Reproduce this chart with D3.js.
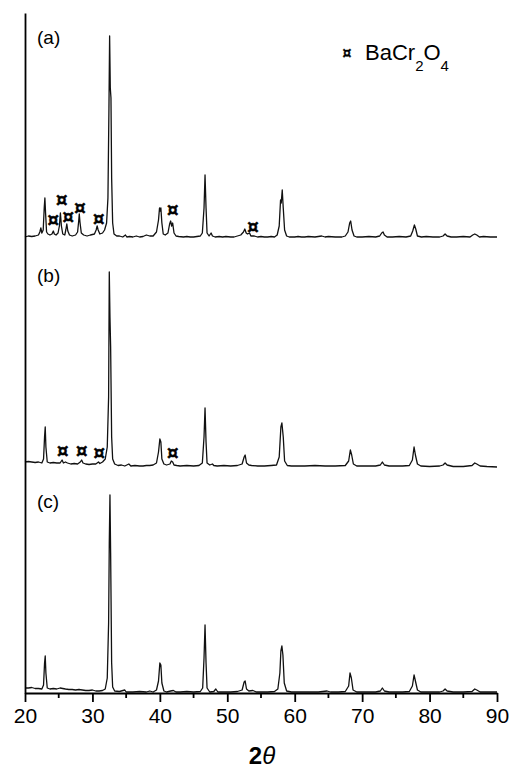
<!DOCTYPE html>
<html>
<head>
<meta charset="utf-8">
<script src="https://cdn.jsdelivr.net/npm/d3@7/dist/d3.min.js"></script>
<style>
  body { margin: 0; background: #fff; }
  svg { display: block; font-family: "Liberation Sans", Arial, sans-serif; }
  .trace { fill: none; stroke: #111; stroke-width: 1.3; stroke-linejoin: round; }
  .axis path, .axis line { stroke: #000; stroke-width: 1.8; }
  .axis text { font-size: 21px; fill: #000; font-family: "Liberation Sans", Arial, sans-serif; }
  .mark { font-family: "DejaVu Sans", sans-serif; font-weight: bold; font-size: 18px; fill: #000; stroke: #000; stroke-width: 0.6; }
</style>
</head>
<body>
<svg id="XRD"></svg>
<script>

/* SETUP */
var width = 512;
var height = 772;

/* DATA : [2theta, intensity (a.u.)] */
var traceA = [
  [20.0, 1], [20.5, 2], [21.0, 1.5], [21.5, 2], [22.0, 3], [22.2, 6], [22.35, 10], [22.5, 5],
  [22.7, 8], [22.85, 30], [22.95, 40], [23.05, 25], [23.2, 6], [23.4, 4], [23.7, 3], [24.0, 4],
  [24.2, 7], [24.35, 4], [24.6, 3], [24.9, 5], [25.1, 12], [25.25, 25], [25.4, 12], [25.6, 4],
  [25.9, 3], [26.05, 8], [26.2, 14], [26.35, 7], [26.6, 3], [27.0, 2], [27.5, 3], [27.8, 6],
  [27.95, 16], [28.05, 24], [28.15, 16], [28.35, 5], [28.7, 3], [29.2, 2], [29.7, 3], [30.3, 4],
  [30.55, 8], [30.7, 12], [30.85, 8], [31.1, 4], [31.5, 5], [31.8, 8], [32.1, 15], [32.3, 40],
  [32.45, 130], [32.55, 202], [32.65, 150], [32.75, 140], [32.85, 60], [33.0, 15], [33.2, 4],
  [33.6, 2], [34.0, 2], [34.5, 1], [34.9, 3], [35.1, 1], [35.5, 1.5], [36.0, 1], [36.5, 2],
  [37.0, 1], [37.5, 1.5], [38.0, 3], [38.5, 2], [39.0, 2], [39.5, 6], [39.8, 18], [39.95, 30],
  [40.05, 27], [40.15, 30], [40.3, 15], [40.5, 4], [40.8, 3], [41.2, 5], [41.45, 14], [41.6, 17],
  [41.75, 12], [41.9, 15], [42.1, 5], [42.4, 2], [42.8, 1.5], [43.5, 1], [44.0, 1.5], [44.5, 1],
  [45.0, 1], [45.5, 1.5], [46.0, 2], [46.3, 5], [46.55, 30], [46.7, 63], [46.85, 30], [47.0, 5],
  [47.3, 2], [47.6, 5], [47.8, 2], [48.2, 1], [48.8, 1.5], [49.3, 1], [49.8, 1.5], [50.5, 1],
  [51.0, 1], [51.5, 2], [52.0, 3], [52.4, 6], [52.6, 9], [52.8, 5], [53.0, 4], [53.3, 5],
  [53.5, 2], [54.0, 2], [54.5, 1], [55.0, 1.5], [55.5, 1], [56.0, 1], [56.5, 1.5], [57.0, 1],
  [57.4, 3], [57.7, 12], [57.9, 38], [58.0, 35], [58.15, 48], [58.3, 30], [58.5, 8], [58.8, 2],
  [59.2, 1], [60.0, 1], [60.5, 1.5], [61.0, 1], [61.5, 1], [62.0, 1.5], [63.0, 1], [64.0, 2],
  [64.5, 1], [65.0, 1.5], [66.0, 1], [67.0, 1], [67.5, 2], [67.9, 6], [68.15, 15], [68.3, 17],
  [68.5, 8], [68.8, 2], [69.2, 1], [70.0, 1], [71.0, 1.5], [72.0, 1], [72.6, 2], [72.9, 5],
  [73.1, 6], [73.3, 3], [73.7, 1], [74.5, 1], [75.5, 1.5], [76.5, 1], [77.2, 2], [77.5, 7],
  [77.75, 13], [77.95, 9], [78.2, 2], [78.8, 1], [79.5, 1.5], [80.5, 1], [81.5, 1], [82.0, 2],
  [82.3, 4], [82.6, 2], [83.2, 1], [84.0, 1], [85.0, 1.5], [86.0, 1], [86.4, 3], [86.7, 4],
  [87.0, 3], [87.4, 1], [88.0, 1.5], [89.0, 1], [89.5, 1], [90.0, 1]
];

var traceB = [
  [20.0, 5], [20.5, 5.5], [21.0, 5], [21.5, 4.5], [22.0, 5], [22.5, 4], [22.75, 8], [22.9, 30],
  [23.0, 40], [23.1, 20], [23.3, 5], [23.7, 4], [24.2, 4.5], [24.7, 4], [25.2, 4], [25.5, 7],
  [25.7, 4], [26.0, 5], [26.3, 4], [26.8, 3], [27.3, 3.5], [27.8, 3], [28.2, 5], [28.4, 7],
  [28.6, 4], [29.0, 3], [29.5, 2.5], [30.0, 3], [30.5, 3], [30.9, 5], [31.1, 3.5], [31.5, 5],
  [31.9, 8], [32.2, 20], [32.4, 70], [32.5, 195], [32.6, 150], [32.7, 120], [32.85, 30], [33.0, 8],
  [33.3, 3], [33.8, 1.5], [34.3, 2], [34.8, 1], [35.4, 3], [35.7, 1], [36.3, 1.5], [37.0, 1],
  [37.5, 1], [38.0, 1.5], [38.5, 1.5], [39.0, 2], [39.5, 4], [39.8, 15], [40.0, 28], [40.15, 25],
  [40.3, 8], [40.6, 3], [41.0, 2], [41.5, 3], [41.7, 6], [41.9, 5], [42.1, 2], [42.5, 1.5],
  [43.0, 1], [44.0, 1.5], [45.0, 1], [45.8, 1.5], [46.3, 4], [46.55, 30], [46.7, 59], [46.85, 25],
  [47.0, 4], [47.4, 2], [47.8, 3], [48.0, 1.5], [48.5, 1], [49.5, 1.5], [50.5, 1], [51.5, 1.5],
  [52.2, 3], [52.5, 10], [52.65, 12], [52.85, 4], [53.2, 2], [53.6, 1.5], [54.5, 1], [55.5, 1],
  [56.5, 1.5], [57.3, 2], [57.7, 10], [57.95, 40], [58.1, 44], [58.3, 30], [58.5, 6], [58.9, 1.5],
  [59.5, 1], [60.5, 1], [61.5, 1], [63.0, 1.5], [64.5, 1], [66.0, 1], [67.5, 1.5], [68.0, 6],
  [68.25, 17], [68.45, 12], [68.7, 3], [69.2, 1], [70.5, 1], [72.0, 1], [72.7, 2], [73.0, 5],
  [73.3, 2], [74.0, 1], [75.0, 1], [76.0, 1], [77.0, 1.5], [77.45, 7], [77.7, 20], [77.9, 12],
  [78.2, 3], [78.7, 1], [80.0, 0.5], [81.5, 1], [82.0, 2], [82.3, 4], [82.6, 2], [83.5, 0.5],
  [85.0, 0.5], [86.3, 1.5], [86.7, 4], [87.0, 3], [87.5, 1], [88.5, 0.5], [90.0, 0]
];

var traceC = [
  [20.0, 5], [20.5, 5], [21.0, 5.5], [21.5, 4.5], [22.0, 4.5], [22.5, 4], [22.75, 8], [22.9, 30],
  [23.0, 37], [23.1, 20], [23.3, 5], [23.7, 4], [24.2, 4.5], [24.7, 4], [25.2, 5], [25.6, 4.5],
  [26.0, 4], [26.5, 3.5], [27.0, 3.5], [27.5, 3], [28.0, 3.5], [28.5, 3], [29.0, 2.5], [29.5, 2.5],
  [30.0, 3], [30.5, 2], [31.0, 2], [31.5, 2.5], [31.9, 4], [32.2, 15], [32.4, 70], [32.5, 150],
  [32.6, 198], [32.7, 140], [32.85, 30], [33.0, 6], [33.3, 2], [34.0, 1.5], [34.8, 3], [35.0, 1],
  [36.0, 1], [37.0, 1.5], [38.0, 1], [38.5, 2], [39.0, 1], [39.5, 3], [39.8, 12], [40.0, 30],
  [40.15, 28], [40.3, 10], [40.6, 2], [41.0, 1], [41.6, 2], [42.0, 2.5], [42.4, 1], [43.0, 1],
  [44.0, 1.5], [45.0, 1], [46.0, 1.5], [46.35, 5], [46.55, 35], [46.7, 68], [46.85, 30], [47.0, 5],
  [47.4, 1], [48.0, 1.5], [48.3, 4], [48.6, 1], [49.5, 1], [50.5, 1], [51.5, 1.5], [52.2, 3],
  [52.5, 11], [52.65, 12], [52.85, 4], [53.2, 2], [53.8, 2.5], [54.3, 1], [55.0, 1], [56.0, 1],
  [57.0, 1.5], [57.5, 4], [57.8, 20], [57.95, 42], [58.1, 47], [58.25, 38], [58.45, 10], [58.8, 2],
  [59.5, 1], [60.5, 1], [62.0, 1], [63.5, 1], [64.8, 2], [65.3, 1], [66.5, 1], [67.5, 1.5],
  [68.0, 7], [68.2, 20], [68.4, 15], [68.65, 3], [69.2, 1], [70.5, 1], [72.0, 1], [72.7, 2],
  [73.0, 5], [73.3, 2], [74.0, 1], [75.0, 1], [76.0, 1], [77.0, 1.5], [77.45, 7], [77.7, 18],
  [77.9, 12], [78.2, 3], [78.7, 1], [80.0, 1], [81.5, 1], [82.0, 2], [82.3, 4], [82.6, 2],
  [83.5, 1], [85.0, 1], [86.3, 1.5], [86.7, 4], [87.0, 3], [87.5, 1], [88.5, 1], [90.0, 1]
];

// BaCr2O4 reflections marked with ¤ : [2theta, intensity of symbol]
var marksA = [[24.2, 19], [25.45, 39], [26.4, 22], [28.15, 31], [30.95, 20], [41.9, 29], [53.8, 12]];
var marksB = [[25.6, 17], [28.4, 17], [31.0, 15], [41.9, 15]];

var traceNames = ["(a)", "(b)", "(c)"];
var traceOffsets = [455, 226, 0];   // vertical stacking offset (a.u.)
var labelLevels = [649, 411, 185];  // height of the (a)/(b)/(c) label (a.u.)

var xTicks = [20, 30, 40, 50, 60, 70, 80, 90];
var xMinorTicks = [25, 35, 45, 55, 65, 75, 85];


/* DRAW */
var svg = d3.select("svg#XRD")
  .attr("width", width)
  .attr("height", height);

var x = d3.scaleLinear().domain([20, 90]).range([25, 497]);
var y = d3.scaleLinear().domain([0, 680]).range([693, 13]);

var traces = [traceA, traceB, traceC];
var marks = [marksA, marksB, []];

var plot = svg.append("g").attr("id", "plot");

traces.forEach(function(data, i) {
  var off = traceOffsets[i];
  var line = d3.line()
    .x(d => x(d[0]))
    .y(d => y(d[1] + off));

  plot.append("path")
    .datum(data)
    .attr("class", "trace")
    .attr("d", line);

  plot.selectAll(".mark" + i)
    .data(marks[i])
    .enter()
    .append("text")
    .attr("class", "mark mark" + i)
    .attr("x", d => x(d[0]))
    .attr("y", d => y(d[1] + off))
    .attr("text-anchor", "middle")
    .attr("dominant-baseline", "central")
    .text("\u00a4");

  plot.append("text")
    .attr("x", 37)
    .attr("y", y(labelLevels[i]))
    .style("font-size", "19px")
    .text(traceNames[i]);
});

/* AXES */
var xAxis = d3.axisBottom(x)
  .tickValues(xTicks)
  .tickFormat(d3.format("d"))
  .tickSize(9)
  .tickSizeOuter(0)
  .tickPadding(6);

var gx = svg.append("g")
  .attr("class", "axis")
  .attr("transform", translate(0, 693))
  .call(xAxis);

gx.selectAll(".minor")
  .data(xMinorTicks)
  .enter()
  .append("line")
  .attr("class", "minor")
  .attr("x1", d => x(d))
  .attr("x2", d => x(d))
  .attr("y1", 0)
  .attr("y2", 5);

var yAxis = d3.axisLeft(y)
  .tickValues([])
  .tickSizeOuter(0);

svg.append("g")
  .attr("class", "axis")
  .attr("transform", translate(25, 0))
  .call(yAxis);

/* AXIS TITLE */
var title = svg.append("text")
  .attr("x", 262)
  .attr("y", 764)
  .attr("text-anchor", "middle")
  .style("font-size", "24px");
title.append("tspan").style("font-weight", "bold").text("2");
title.append("tspan").style("font-style", "italic").text("\u03b8");

/* LEGEND */
var legend = svg.append("g").attr("id", "legend").attr("transform", translate(343, 60));
legend.append("text")
  .attr("class", "mark")
  .attr("x", 4)
  .attr("y", -7)
  .attr("text-anchor", "middle")
  .attr("dominant-baseline", "central")
  .style("font-size", "14px")
  .style("stroke-width", "0.4px")
  .text("\u00a4");
var lt = legend.append("text")
  .attr("x", 22)
  .attr("y", 0)
  .style("font-size", "22px");
lt.append("tspan").text("BaCr");
lt.append("tspan").attr("dy", 11).style("font-size", "15px").text("2");
lt.append("tspan").attr("dy", -11).text("O");
lt.append("tspan").attr("dy", 11).style("font-size", "15px").text("4");


/* HELPER FUNCTION */
function translate(x, y) {
  return 'translate(' + String(x) + ',' + String(y) + ')';
}
</script>
</body>
</html>
